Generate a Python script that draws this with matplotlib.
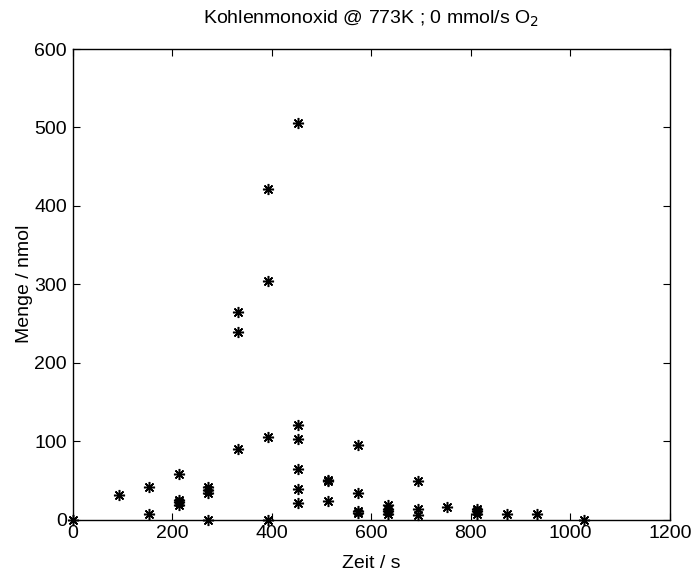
import numpy as np
import matplotlib.pyplot as plt

plt.rcParams['font.family'] = ['Liberation Sans', 'DejaVu Sans']

# time (s) and amount (nmol)
zeit = [0,
        93,
        153, 153,
        213, 213, 213, 213,
        273, 273, 273, 273,
        333, 333, 333,
        393, 393, 393, 393,
        453, 453, 453, 453, 453, 453,
        513, 513, 513,
        573, 573, 573, 573,
        633, 633, 633, 633,
        693, 693, 693,
        753,
        813, 813, 813,
        873,
        933,
        1028]
menge = [0,
         31,
         41.5, 7.5,
         57.5, 25.5, 22, 18,
         42, 37, 34, 0,
         265, 239, 89.5,
         421, 304, 105.5, 0,
         506, 120, 103, 65, 38.5, 21.5,
         50, 48.5, 23,
         95.5, 34, 11, 8.5,
         19, 14, 10.5, 7.5,
         48.5, 13, 5.5,
         16,
         14, 10.5, 6.5,
         7,
         7,
         0]

fig = plt.figure(figsize=(6.96, 5.72), dpi=100)
ax = fig.add_axes([72.5/696, 52.5/572, 597.5/696, 470.5/572])

ax.plot(zeit, menge, linestyle='none', marker=(8, 2, 0), markersize=8,
        markeredgecolor='k', markerfacecolor='k', markeredgewidth=1.1,
        clip_on=False)

ax.set_xlim(0, 1200)
ax.set_ylim(0, 600)
ax.set_xticks(np.arange(0, 1201, 200))
ax.set_yticks(np.arange(0, 601, 100))
ax.tick_params(direction='in', length=5, width=0.8, labelsize=14,
               top=True, right=True)
ax.tick_params(axis='x', pad=4)
ax.tick_params(axis='y', pad=4)
for s in ax.spines.values():
    s.set_linewidth(1.0)

ax.set_title('Kohlenmonoxid @ 773K ; 0 mmol/s O$_2$', fontsize=14, pad=18)
ax.set_xlabel('Zeit / s', fontsize=14, labelpad=9)
ax.set_ylabel('Menge / nmol', fontsize=14, labelpad=1)

fig.savefig('out.png', dpi=100)
